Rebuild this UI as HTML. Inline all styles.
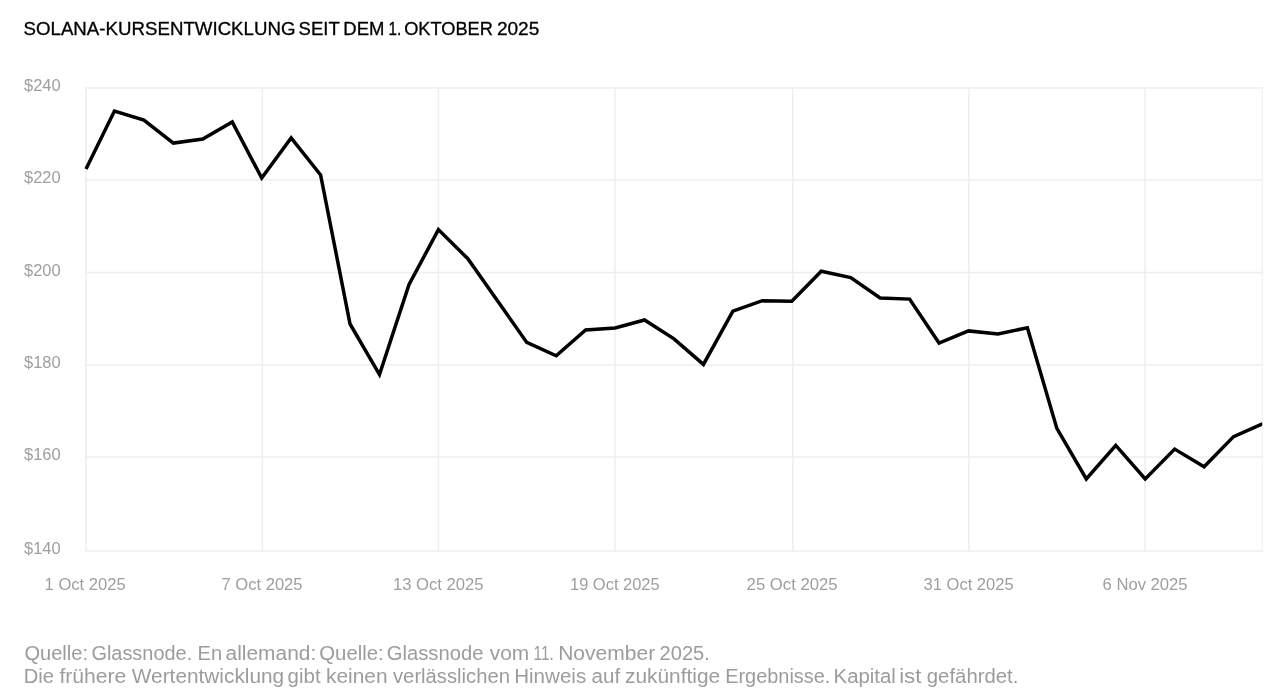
<!DOCTYPE html>
<html><head><meta charset="utf-8"><style>
html,body{margin:0;padding:0;background:#fff;width:1280px;height:694px;overflow:hidden}
svg{position:absolute;left:0;top:0;will-change:transform}
text{font-family:"Liberation Sans",sans-serif}
</style></head><body>
<svg width="1280" height="694" viewBox="0 0 1280 694">
<g font-size="17.6" fill="#000" stroke="#000" stroke-width="0.3"><text x="23.5" y="34.6" textLength="272.0" lengthAdjust="spacingAndGlyphs">SOLANA-KURSENTWICKLUNG</text><text x="298.6" y="34.6" textLength="41.1" lengthAdjust="spacingAndGlyphs">SEIT</text><text x="343.3" y="34.6" textLength="41.1" lengthAdjust="spacingAndGlyphs">DEM</text><text x="388.5" y="34.6" textLength="12.7" lengthAdjust="spacingAndGlyphs">1.</text><text x="404.2" y="34.6" textLength="88.7" lengthAdjust="spacingAndGlyphs">OKTOBER</text><text x="496.9" y="34.6" textLength="42.4" lengthAdjust="spacingAndGlyphs">2025</text></g>
<g stroke="#eeeeee" stroke-width="1.5" fill="none"><line x1="85.25" y1="87.9" x2="1263.15" y2="87.9"/><line x1="85.25" y1="179.9" x2="1263.15" y2="179.9"/><line x1="85.25" y1="272.5" x2="1263.15" y2="272.5"/><line x1="85.25" y1="364.9" x2="1263.15" y2="364.9"/><line x1="85.25" y1="457.1" x2="1263.15" y2="457.1"/><line x1="85.25" y1="550.9" x2="1263.15" y2="550.9"/><line x1="86.0" y1="87.9" x2="86.0" y2="550.9"/><line x1="262.3" y1="87.9" x2="262.3" y2="550.9"/><line x1="438.4" y1="87.9" x2="438.4" y2="550.9"/><line x1="615.0" y1="87.9" x2="615.0" y2="550.9"/><line x1="792.7" y1="87.9" x2="792.7" y2="550.9"/><line x1="968.8" y1="87.9" x2="968.8" y2="550.9"/><line x1="1145.1" y1="87.9" x2="1145.1" y2="550.9"/><line x1="1262.4" y1="87.9" x2="1262.4" y2="550.9" stroke="#f3f3f3"/></g>
<g font-size="16" fill="#9e9e9e"><text x="24.0" y="90.9" textLength="36.6" lengthAdjust="spacingAndGlyphs">$240</text><text x="24.0" y="182.9" textLength="36.6" lengthAdjust="spacingAndGlyphs">$220</text><text x="24.0" y="275.5" textLength="36.6" lengthAdjust="spacingAndGlyphs">$200</text><text x="24.0" y="367.9" textLength="36.6" lengthAdjust="spacingAndGlyphs">$180</text><text x="24.0" y="460.1" textLength="36.6" lengthAdjust="spacingAndGlyphs">$160</text><text x="24.0" y="553.9" textLength="36.6" lengthAdjust="spacingAndGlyphs">$140</text><text x="44.6" y="590.1" textLength="81.0" lengthAdjust="spacingAndGlyphs">1 Oct 2025</text><text x="221.4" y="590.1" textLength="81.2" lengthAdjust="spacingAndGlyphs">7 Oct 2025</text><text x="393.0" y="590.1" textLength="90.4" lengthAdjust="spacingAndGlyphs">13 Oct 2025</text><text x="570.0" y="590.1" textLength="89.6" lengthAdjust="spacingAndGlyphs">19 Oct 2025</text><text x="746.6" y="590.1" textLength="91.0" lengthAdjust="spacingAndGlyphs">25 Oct 2025</text><text x="923.6" y="590.1" textLength="90.0" lengthAdjust="spacingAndGlyphs">31 Oct 2025</text><text x="1102.6" y="590.1" textLength="85.0" lengthAdjust="spacingAndGlyphs">6 Nov 2025</text></g>
<defs><clipPath id="c"><rect x="0" y="0" width="1262.2" height="694"/></clipPath></defs>
<polyline clip-path="url(#c)" points="86.00,169.00 114.45,111.00 143.90,120.00 173.35,143.10 202.80,139.00 232.25,122.00 261.70,178.00 291.15,137.90 320.60,174.90 350.05,324.00 379.50,374.60 408.95,284.80 438.40,229.60 467.85,258.70 497.30,300.50 526.75,342.40 556.20,355.80 585.65,329.90 615.10,327.90 644.55,320.00 674.00,338.90 703.45,364.40 732.90,311.10 762.35,300.70 791.80,301.20 821.25,271.20 850.70,277.60 880.15,298.00 909.60,299.10 939.05,343.00 968.50,330.90 997.95,333.90 1027.40,327.70 1056.85,428.40 1086.30,478.90 1115.75,445.40 1145.20,478.90 1174.65,449.10 1204.10,466.70 1233.55,436.60 1263.00,423.60" fill="none" stroke="#000" stroke-width="3.5" stroke-linejoin="miter" stroke-linecap="butt"/>
<g fill="#9c9c9c" font-size="19.6"><text x="24.4" y="660" textLength="63.6" lengthAdjust="spacingAndGlyphs">Quelle:</text><text x="91.4" y="660" textLength="100.8" lengthAdjust="spacingAndGlyphs">Glassnode.</text><text x="197.6" y="660" textLength="24.6" lengthAdjust="spacingAndGlyphs">En</text><text x="225.6" y="660" textLength="90.6" lengthAdjust="spacingAndGlyphs">allemand:</text><text x="319.2" y="660" textLength="64.6" lengthAdjust="spacingAndGlyphs">Quelle:</text><text x="386.8" y="660" textLength="96.6" lengthAdjust="spacingAndGlyphs">Glassnode</text><text x="489.8" y="660" textLength="39.4" lengthAdjust="spacingAndGlyphs">vom</text><text x="533.6" y="660" textLength="20.2" lengthAdjust="spacingAndGlyphs">11.</text><text x="558.2" y="660" textLength="97.0" lengthAdjust="spacingAndGlyphs">November</text><text x="659.6" y="660" textLength="50.2" lengthAdjust="spacingAndGlyphs">2025.</text><text x="23.8" y="683" textLength="30.2" lengthAdjust="spacingAndGlyphs">Die</text><text x="59.4" y="683" textLength="67.0" lengthAdjust="spacingAndGlyphs">frühere</text><text x="131.8" y="683" textLength="152.4" lengthAdjust="spacingAndGlyphs">Wertentwicklung</text><text x="287.6" y="683" textLength="33.0" lengthAdjust="spacingAndGlyphs">gibt</text><text x="326.0" y="683" textLength="61.6" lengthAdjust="spacingAndGlyphs">keinen</text><text x="393.0" y="683" textLength="117.0" lengthAdjust="spacingAndGlyphs">verlässlichen</text><text x="514.2" y="683" textLength="72.0" lengthAdjust="spacingAndGlyphs">Hinweis</text><text x="591.6" y="683" textLength="28.6" lengthAdjust="spacingAndGlyphs">auf</text><text x="625.0" y="683" textLength="95.2" lengthAdjust="spacingAndGlyphs">zukünftige</text><text x="725.2" y="683" textLength="105.2" lengthAdjust="spacingAndGlyphs">Ergebnisse.</text><text x="833.6" y="683" textLength="62.2" lengthAdjust="spacingAndGlyphs">Kapital</text><text x="899.2" y="683" textLength="22.2" lengthAdjust="spacingAndGlyphs">ist</text><text x="926.8" y="683" textLength="91.6" lengthAdjust="spacingAndGlyphs">gefährdet.</text></g>
</svg>
</body></html>
